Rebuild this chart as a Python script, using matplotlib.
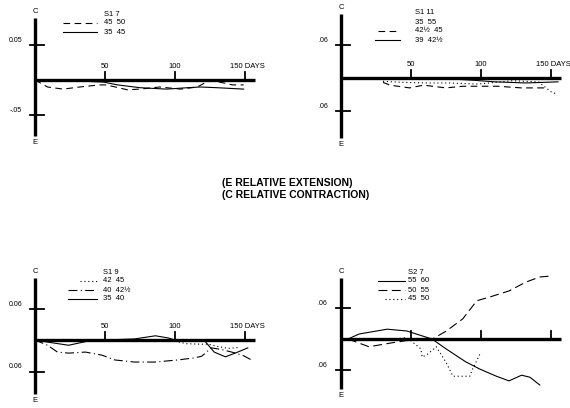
import matplotlib
matplotlib.use("Agg")
import matplotlib.pyplot as plt

W, H = 570, 408
PPD = 1.4  # pixels per day on every panel

plt.rcParams['font.family'] = ['Liberation Sans', 'DejaVu Sans']

# ---- S1 7 ----
s17_days_45 = [0, 9, 20, 32, 46, 51, 66, 75, 89, 104, 116, 125, 132, 141, 149]
s17_val_45 = [0, -0.010, -0.013, -0.010, -0.007, -0.007, -0.014, -0.013, -0.010,
              -0.013, -0.010, 0.0, -0.003, -0.007, -0.007]
s17_days_35 = [0, 25, 49, 59, 75, 94, 109, 118, 130, 149]
s17_val_35 = [0, -0.001, -0.003, -0.007, -0.011, -0.013, -0.011, -0.010, -0.011, -0.013]

# ---- S1 11 ----
s111_days_35 = [30, 45, 61, 77, 98, 110, 122, 141, 150, 154]
s111_val_35 = [-0.006, -0.008, -0.009, -0.009, -0.011, -0.008, -0.005, -0.007, -0.025, -0.029]
s111_days_42 = [30, 35, 49, 59, 75, 87, 100, 112, 129, 139, 148]
s111_val_42 = [-0.008, -0.013, -0.018, -0.013, -0.018, -0.015, -0.015, -0.015,
               -0.018, -0.018, -0.018]
s111_days_39 = [0, 50, 80, 94, 110, 132, 155]
s111_val_39 = [0, -0.001, -0.002, -0.004, -0.007, -0.009, -0.007]

# ---- S1 9 ----
s19_days_42 = [100, 108, 118, 124, 130, 138, 146]
s19_val_42 = [-0.002, -0.007, -0.008, -0.008, -0.012, -0.016, -0.014]
s19_days_40 = [0, 9, 16, 24, 36, 48, 57, 71, 86, 102, 114, 119, 126, 133, 142, 149, 156]
s19_val_40 = [0, -0.010, -0.023, -0.025, -0.023, -0.029, -0.038, -0.042, -0.042,
              -0.038, -0.034, -0.031, -0.015, -0.018, -0.024, -0.030, -0.040]
s19_days_35 = [0, 9, 24, 38, 50, 71, 86, 95, 100, 121, 128, 136, 143, 152]
s19_val_35 = [0, -0.004, -0.010, -0.002, 0, 0.002, 0.008, 0.004, 0, -0.001,
              -0.023, -0.032, -0.025, -0.015]

# ---- S2 7 ----
s27_days_55 = [5, 13, 33, 47, 58, 65, 75, 89, 99, 111, 120, 129, 135, 142]
s27_val_55 = [0, 0.0097, 0.019, 0.0155, 0.006, 0, -0.019, -0.044, -0.058, -0.072,
              -0.081, -0.070, -0.074, -0.089]
s27_days_50 = [5, 20, 35, 47, 64, 75, 87, 97, 106, 120, 132, 142, 151]
s27_val_50 = [0, -0.015, -0.008, -0.003, -0.002, 0.015, 0.039, 0.074, 0.081,
              0.093, 0.110, 0.120, 0.122]
s27_days_45 = [20, 35, 47, 57, 58, 62, 68, 75, 80, 92, 94, 100]
s27_val_45 = [0, -0.002, 0.003, -0.019, -0.035, -0.029, -0.015, -0.045, -0.072,
              -0.072, -0.058, -0.025]

DASH = (6, 4)
LDASH = (8, 4)
DOT = (1, 2.5)
DASHDOT = (8, 3, 1, 3)

fig = plt.figure(figsize=(W / 100, H / 100), dpi=100)
fig.patch.set_facecolor('white')


def fp(x, y):
    # pixel position -> figure fraction
    return x / W, 1 - y / H


def panel(x0, y0, ppu):
    left, right = x0 - 12, x0 + 232
    top, bottom = y0 - 68, y0 + 68
    ax = fig.add_axes([left / W, 1 - bottom / H, (right - left) / W, (bottom - top) / H])
    ax.set_xlim(-12 / PPD, 232 / PPD)
    ax.set_ylim(-68 / ppu, 68 / ppu)
    ax.axis('off')
    return ax


def frame(ax, ppu, top_px, bot_px, ytick, ylabels, lab_dx, xlabels=True):
    # thick vertical strain axis and time axis with their ticks
    ax.plot([0, 0], [-bot_px / ppu, top_px / ppu], color='k', lw=2.4,
            solid_capstyle='butt', clip_on=False)
    ax.plot([0, 157], [0, 0], color='k', lw=2.4, solid_capstyle='butt', clip_on=False)
    for d in (50, 100, 150):
        ax.plot([d, d], [0, 8 / ppu], color='k', lw=1.3)
    for s, lab in zip((1, -1), ylabels):
        ax.plot([-5 / PPD, 9 / PPD], [s * ytick, s * ytick], color='k', lw=1.3)
        ax.text(lab_dx / PPD, s * ytick + 1 / ppu, lab, ha='right', va='bottom', fontsize=5)
    ax.text(0, (top_px + 3) / ppu, 'C', ha='center', va='bottom', fontsize=5.5)
    ax.text(0, -(bot_px + 3) / ppu, 'E', ha='center', va='top', fontsize=5.5)
    if xlabels:
        ax.text(50, 10 / ppu, '50', ha='center', va='bottom', fontsize=5.5)
        ax.text(100, 10 / ppu, '100', ha='center', va='bottom', fontsize=5.5)
        ax.text(139, 10 / ppu, '150 DAYS', ha='left', va='bottom', fontsize=5.5)


def key(title, tx, ty, rows):
    # title at (tx, ty); each row: (x_start, x_end, dashes, label)
    fig.text(*fp(tx, ty), title, ha='left', va='center', fontsize=5.5)
    for i, (xa, xb, dashes, lab) in enumerate(rows):
        y = ty + 9 * (i + 1)
        if xa is not None:
            ln = plt.Line2D([fp(xa, y)[0], fp(xb, y)[0]], [fp(xa, y)[1]] * 2,
                            transform=fig.transFigure, color='k', lw=0.8)
            if dashes:
                ln.set_dashes(dashes)
            fig.add_artist(ln)
        fig.text(*fp(tx, y), lab, ha='left', va='center', fontsize=5.5)


def curve(ax, days, vals, dashes=None, lw=0.8):
    ln, = ax.plot(days, vals, color='k', lw=lw)
    if dashes:
        ln.set_dashes(dashes)


# top left: S1 7
ax1 = panel(35, 80, 700)
frame(ax1, 700, 62, 56, 0.05, ('0.05', '-.05'), -13)
curve(ax1, s17_days_45, s17_val_45, DASH)
curve(ax1, s17_days_35, s17_val_35)
key('S1 7', 104, 14, [(63, 97, DASH, '45  50'), (63, 97, None, '35  45')])

# top right: S1 11
ax2 = panel(341, 78, 550)
frame(ax2, 550, 64, 60, 0.06, ('.06', '.06'), -13)
curve(ax2, s111_days_35, s111_val_35, DOT)
curve(ax2, s111_days_42, s111_val_42, DASH)
curve(ax2, s111_days_39, s111_val_39)
key('S1 11', 415, 13, [(None, None, None, '35  55'), (378, 397, DASH, '42½  45'),
                       (375, 400, None, '39  42½')])

# bottom left: S1 9
ax3 = panel(35, 340, 525)
frame(ax3, 525, 62, 54, 0.06, ('0.06', '0.06'), -13)
curve(ax3, s19_days_42, s19_val_42, DOT)
curve(ax3, s19_days_40, s19_val_40, DASHDOT)
curve(ax3, s19_days_35, s19_val_35)
key('S1 9', 103, 272, [(80, 97, DOT, '42  45'), (68, 97, DASHDOT, '40  42½'),
                       (68, 97, None, '35  40')])

# bottom right: S2 7
ax4 = panel(341, 339, 517)
frame(ax4, 517, 61, 50, 0.06, ('.06', '.06'), -14, xlabels=False)
curve(ax4, s27_days_55, s27_val_55)
curve(ax4, s27_days_50, s27_val_50, LDASH)
curve(ax4, s27_days_45, s27_val_45, DOT)
key('S2 7', 408, 272, [(378, 405, None, '55  60'), (378, 405, LDASH, '50  55'),
                       (385, 405, DOT, '45  50')])

fig.text(*fp(222, 183), '(E RELATIVE EXTENSION)', ha='left', va='center',
         fontsize=7.5, fontweight='bold', family=['Liberation Sans Narrow', 'Liberation Sans'])
fig.text(*fp(222, 195), '(C RELATIVE CONTRACTION)', ha='left', va='center',
         fontsize=7.5, fontweight='bold', family=['Liberation Sans Narrow', 'Liberation Sans'])

fig.savefig('out.png', dpi=100, facecolor='white')
